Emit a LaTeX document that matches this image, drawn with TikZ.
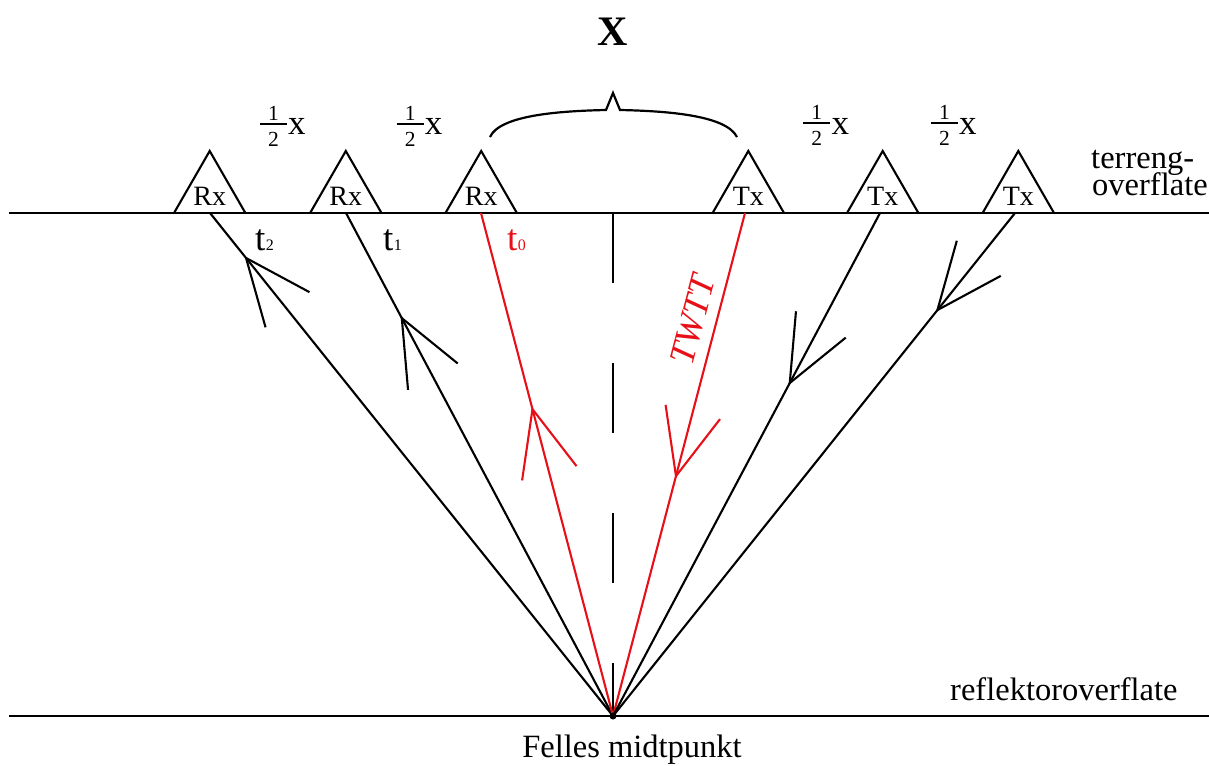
\documentclass[tikz,border=0pt]{standalone}
\usepackage{fontspec}
\setmainfont{Liberation Serif}
\usetikzlibrary{calc}
\definecolor{rayred}{RGB}{232,16,24}
\tikzset{
 ground/.style={line width=2.7pt},
 ray/.style={line width=2.1pt},
 tri/.style={line width=2.1pt, line join=miter},
 lbl/.style={inner sep=0pt, font=\fontsize{32.5}{34}\selectfont},
 dev/.style={inner sep=0pt, font=\fontsize{28}{28}\selectfont, anchor=base},
 digit/.style={inner sep=0pt, font=\fontsize{21.5}{21.5}\selectfont},
 xvar/.style={inner sep=0pt, anchor=base west, font=\fontsize{35}{35}\selectfont},
 tlab/.style={inner sep=0pt, anchor=base west, font=\fontsize{37}{37}\selectfont},
}
\newcommand\vhead[3]{\draw[ray,#3] ($(#1)!72pt!23:(#2)$) -- (#1) -- ($(#1)!72pt!-23:(#2)$);}
\newcommand\tsub[1]{t\kern0.5pt{\fontsize{16}{16}\selectfont #1}}
\begin{document}
\begin{tikzpicture}[x=1pt,y=-1pt]
\useasboundingbox (0,0) rectangle (1209,765);
\coordinate (gL) at (9,213); \coordinate (gR) at (1209,213);
\coordinate (bL) at (9,716); \coordinate (bR) at (1209,716);
\coordinate (M) at (613,716);
\coordinate (C) at (613,213);
% triangles and device labels
\foreach \n/\x/\t in {r1/209.7/Rx, r2/345.8/Rx, r3/481.2/Rx, s1/748.3/Tx, s2/882.7/Tx, s3/1018.3/Tx}{
  \draw[tri] (\x-35.7,213) -- (\x,151) -- (\x+35.7,213);
  \node[dev] (\n) at (\x,205) {\t};
}
% ground lines
\draw[ground] (gL) -- (gR);
\draw[ground] (bL) -- (bR);
% ray end points
\coordinate (R1) at (210,213);
\coordinate (R2) at (346,213);
\coordinate (R3) at (481,213);
\coordinate (T1) at (745,213);
\coordinate (T2) at (880,213);
\coordinate (T3) at (1015,213);
% dashed centre line
\draw[line width=2pt, dash pattern=on 70pt off 80pt] (C) -- (M);
% rays
\draw[ray] (R1) -- (M);
\draw[ray] (R2) -- (M);
\draw[ray, rayred] (R3) -- (M);
\draw[ray, rayred] (T1) -- (M);
\draw[ray] (T2) -- (M);
\draw[ray] (T3) -- (M);
% arrow heads
\coordinate (A1) at ($(M)!0.9105!(R1)$);
\coordinate (A2) at ($(M)!0.791!(R2)$);
\coordinate (A3) at ($(M)!0.610!(R3)$);
\coordinate (B1) at ($(M)!0.477!(T1)$);
\coordinate (B2) at ($(M)!0.662!(T2)$);
\coordinate (B3) at ($(M)!0.807!(T3)$);
\vhead{A1}{M}{}
\vhead{A2}{M}{}
\vhead{A3}{M}{rayred}
\vhead{B1}{T1}{rayred}
\vhead{B2}{T2}{}
\vhead{B3}{T3}{}
% midpoint dot
\fill (M) circle (3.5);
% brace
\draw[line width=2.2pt] (490,137) .. controls (500,115) and (560,111) .. (606,110) -- (613,93) -- (620,110) .. controls (666,111) and (726,115) .. (737,137);
% labels
\node[font=\bfseries\fontsize{42}{44}\selectfont, anchor=base, inner sep=0pt] (X) at (613,46) {X};
% one-half x labels
\foreach \n/\L/\y in {h1/260/124, h2/396.7/124, h3/803.3/123.3, h4/931/123.3}{
  \draw[line width=1.7pt] (\L,\y) -- (\L+27,\y);
  \node[digit] (\n n) at (\L+13.5,\y-10.5) {1};
  \node[digit] (\n d) at (\L+13.5,\y+15.5) {2};
  \node[xvar] (\n x) at (\L+28,\y+11) {x};
}
\node[tlab] (t2) at (255,250) {\tsub{2}};
\node[tlab] (t1) at (383,250) {\tsub{1}};
\node[tlab, text=rayred] (t0) at (507,250) {\tsub{0}};
\node[font=\itshape\fontsize{36}{36}\selectfont, text=rayred, rotate=75.3, inner sep=0pt] (twtt) at (693,320) {TWTT};
\node[lbl, anchor=base west] (terr) at (1091,168) {terreng-};
\node[lbl, anchor=base west] (over) at (1092,195) {overflate};
\node[lbl, anchor=base west] (refl) at (950,700) {reflektoroverflate};
\node[lbl, anchor=base] (fm) at (632,757) {Felles midtpunkt};
\end{tikzpicture}
\end{document}
